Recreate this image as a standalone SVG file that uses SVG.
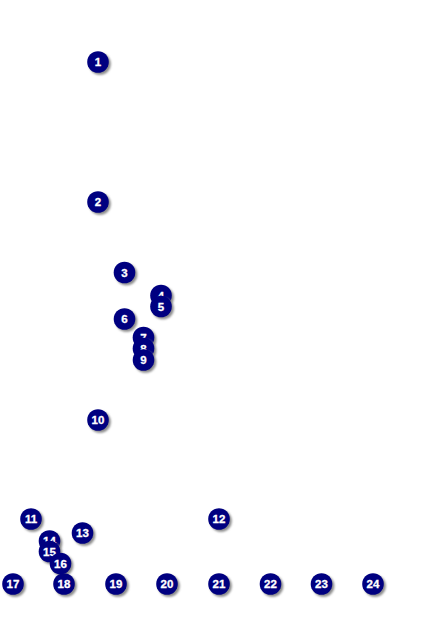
<svg xmlns="http://www.w3.org/2000/svg" width="424" height="636" viewBox="0 0 424 636">
<style>
.sh{fill:#8c8c8c;filter:url(#blur)}
.c{fill:#000080}
.t{fill:#ffffff;font-family:"Liberation Sans",Arial,sans-serif;font-weight:bold;font-size:11.5px;text-anchor:middle;stroke:#ffffff;stroke-width:0.3px}
</style>
<defs>
<filter id="blur" x="-50%" y="-50%" width="200%" height="200%"><feGaussianBlur stdDeviation="0.8"/></filter>
</defs>
<rect width="424" height="636" fill="#ffffff"/>
<g id="connectors"/>
<g id="n1" transform="translate(98,62)"><circle class="sh" cx="2" cy="2" r="10.8"/><circle class="c" r="10.8"/><text class="t" y="4.1">1</text></g>
<g id="n2" transform="translate(98,202)"><circle class="sh" cx="2" cy="2" r="10.8"/><circle class="c" r="10.8"/><text class="t" y="4.1">2</text></g>
<g id="n3" transform="translate(124.5,272.5)"><circle class="sh" cx="2" cy="2" r="10.8"/><circle class="c" r="10.8"/><text class="t" y="4.1">3</text></g>
<g id="n4" transform="translate(161,295.5)"><circle class="sh" cx="2" cy="2" r="10.8"/><circle class="c" r="10.8"/><text class="t" y="4.1">4</text></g>
<g id="n5" transform="translate(161,306.5)"><circle class="sh" cx="2" cy="2" r="10.8"/><circle class="c" r="10.8"/><text class="t" y="4.1">5</text></g>
<g id="n6" transform="translate(124.5,319)"><circle class="sh" cx="2" cy="2" r="10.8"/><circle class="c" r="10.8"/><text class="t" y="4.1">6</text></g>
<g id="n7" transform="translate(143.5,337.5)"><circle class="sh" cx="2" cy="2" r="10.8"/><circle class="c" r="10.8"/><text class="t" y="4.1">7</text></g>
<g id="n8" transform="translate(143.5,348.5)"><circle class="sh" cx="2" cy="2" r="10.8"/><circle class="c" r="10.8"/><text class="t" y="4.1">8</text></g>
<g id="n9" transform="translate(143.5,360)"><circle class="sh" cx="2" cy="2" r="10.8"/><circle class="c" r="10.8"/><text class="t" y="4.1">9</text></g>
<g id="n10" transform="translate(98,420)"><circle class="sh" cx="2" cy="2" r="10.8"/><circle class="c" r="10.8"/><text class="t" y="4.1">10</text></g>
<g id="n11" transform="translate(31,519)"><circle class="sh" cx="2" cy="2" r="10.8"/><circle class="c" r="10.8"/><text class="t" y="4.1">11</text></g>
<g id="n12" transform="translate(219,519)"><circle class="sh" cx="2" cy="2" r="10.8"/><circle class="c" r="10.8"/><text class="t" y="4.1">12</text></g>
<g id="n13" transform="translate(82.5,533)"><circle class="sh" cx="2" cy="2" r="10.8"/><circle class="c" r="10.8"/><text class="t" y="4.1">13</text></g>
<g id="n14" transform="translate(49.5,541)"><circle class="sh" cx="2" cy="2" r="10.8"/><circle class="c" r="10.8"/><text class="t" y="4.1">14</text></g>
<g id="n15" transform="translate(49.5,551.5)"><circle class="sh" cx="2" cy="2" r="10.8"/><circle class="c" r="10.8"/><text class="t" y="4.1">15</text></g>
<g id="n16" transform="translate(60.5,563.5)"><circle class="sh" cx="2" cy="2" r="10.8"/><circle class="c" r="10.8"/><text class="t" y="4.1">16</text></g>
<g id="n17" transform="translate(13,584)"><circle class="sh" cx="2" cy="2" r="10.8"/><circle class="c" r="10.8"/><text class="t" y="4.1">17</text></g>
<g id="n18" transform="translate(64,584)"><circle class="sh" cx="2" cy="2" r="10.8"/><circle class="c" r="10.8"/><text class="t" y="4.1">18</text></g>
<g id="n19" transform="translate(116,584)"><circle class="sh" cx="2" cy="2" r="10.8"/><circle class="c" r="10.8"/><text class="t" y="4.1">19</text></g>
<g id="n20" transform="translate(167,584)"><circle class="sh" cx="2" cy="2" r="10.8"/><circle class="c" r="10.8"/><text class="t" y="4.1">20</text></g>
<g id="n21" transform="translate(219,584)"><circle class="sh" cx="2" cy="2" r="10.8"/><circle class="c" r="10.8"/><text class="t" y="4.1">21</text></g>
<g id="n22" transform="translate(270.5,584)"><circle class="sh" cx="2" cy="2" r="10.8"/><circle class="c" r="10.8"/><text class="t" y="4.1">22</text></g>
<g id="n23" transform="translate(321.5,584)"><circle class="sh" cx="2" cy="2" r="10.8"/><circle class="c" r="10.8"/><text class="t" y="4.1">23</text></g>
<g id="n24" transform="translate(373,584)"><circle class="sh" cx="2" cy="2" r="10.8"/><circle class="c" r="10.8"/><text class="t" y="4.1">24</text></g>
</svg>
